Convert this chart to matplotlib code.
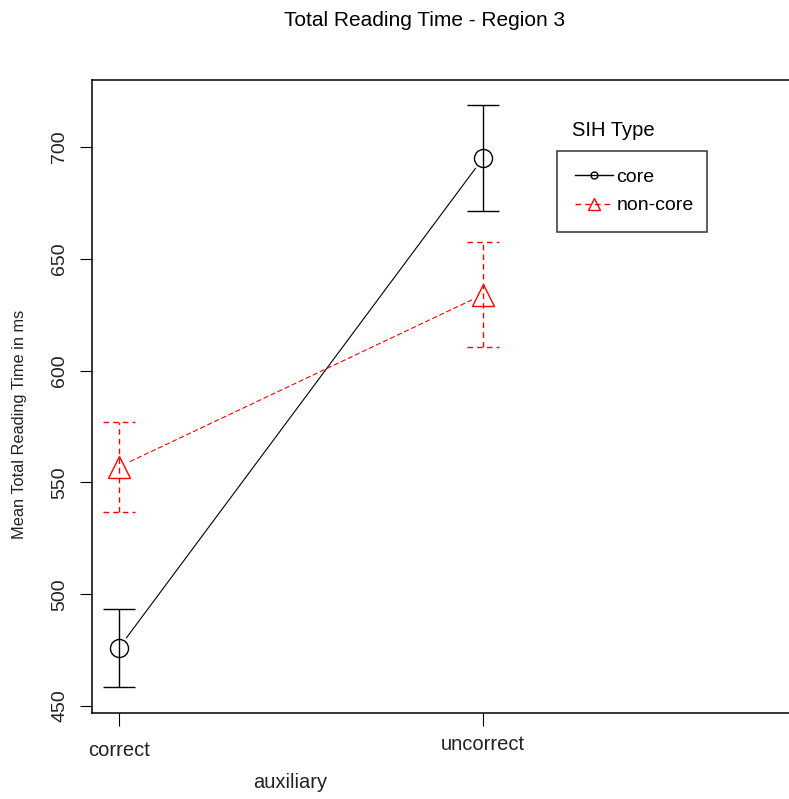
import matplotlib
matplotlib.use("Agg")
import matplotlib.pyplot as plt
from matplotlib.lines import Line2D

# values
levels = ["correct", "uncorrect"]
x_pos = [1, 2]
core_mean = [476, 695]
core_err = [17.5, 23.7]
noncore_mean = [557, 634]
noncore_err = [20, 23.5]
y_ticks = [450, 500, 550, 600, 650, 700]

plt.rcParams['font.family'] = ['Liberation Sans', 'DejaVu Sans']

W, H = 789, 799
fig = plt.figure(figsize=(W / 100, H / 100), dpi=100)
# plot box runs off the right edge like in the reference
ax = fig.add_axes([92 / W, 1 - 713 / H, (830 - 92) / W, (713 - 80) / H])

ax.set_xlim(0.926, 1 + (830 - 119) / 364)
ax.set_ylim(446.9, 730.0)

cap = 0.044


def draw_series(means, errs, color, ls, marker, ms):
    dash = (0, (4, 3)) if ls == '--' else '-'
    for x, m, e in zip(x_pos, means, errs):
        ax.vlines(x, m - e, m + e, color=color, linestyle=dash, lw=1.0)
        ax.hlines([m - e, m + e], x - cap, x + cap, color=color, linestyle=dash, lw=1.0)
    ax.plot(x_pos, means, linestyle='none', marker=marker, markersize=ms,
            markerfacecolor='none', markeredgecolor=color, markeredgewidth=1.0)
    for i in range(len(x_pos) - 1):
        ax.annotate('', xy=(x_pos[i + 1], means[i + 1]), xytext=(x_pos[i], means[i]),
                    arrowprops=dict(arrowstyle='-', color=color, lw=0.8,
                                    linestyle=dash, shrinkA=9, shrinkB=9))


draw_series(core_mean, core_err, 'black', '-', 'o', 13)
draw_series(noncore_mean, noncore_err, 'red', '--', '^', 16)

for sp in ax.spines.values():
    sp.set_linewidth(1.1)

ax.set_yticks(y_ticks)
ax.set_yticklabels([str(v) for v in y_ticks], rotation=90, va='center', fontsize=14,
                   color='#222222')
ax.tick_params(axis='y', length=9, width=0.8, pad=8)
ax.set_xticks(x_pos)
ax.set_xticklabels([])
ax.tick_params(axis='x', length=9, width=0.8)

xt = ax.get_xaxis_transform()
ax.text(x_pos[0], -(750 - 713) / (713 - 80), levels[0], transform=xt, ha='center',
        va='center', fontsize=14.5, color='#222222')
ax.text(x_pos[1], -(745 - 713) / (713 - 80), levels[1], transform=xt, ha='center',
        va='center', fontsize=14.5, color='#222222')

fig.text(425 / W, 1 - 20 / H, "Total Reading Time - Region 3", ha='center', va='center',
         fontsize=15)
fig.text(290 / W, 1 - 783 / H, "auxiliary", ha='center', va='center', fontsize=14.5,
         color='#222222')
fig.text(20 / W, 1 - 424 / H, "Mean Total Reading Time in ms", ha='center', va='center',
         rotation=90, fontsize=11.8, color='#222222')

handles = [
    Line2D([], [], color='black', lw=1.0, marker='o', markersize=5,
           markerfacecolor='none'),
    Line2D([], [], color='red', lw=1.0, linestyle=(0, (4, 3)), marker='^', markersize=9,
           markerfacecolor='none'),
]
leg = fig.legend(handles, ["core", "non-core"], loc='upper left',
                 bbox_to_anchor=(557 / W, 1 - 151 / H, 150 / W, 0.0),
                 mode='expand', fontsize=14, frameon=True, fancybox=False,
                 handlelength=2.0, handletextpad=0.15, borderpad=0.9,
                 labelspacing=0.55, borderaxespad=0)
leg.get_frame().set_edgecolor('black')
leg.get_frame().set_linewidth(1.1)
fig.text(572 / W, 1 - 130 / H, "SIH Type", ha='left', va='center', fontsize=14.5)

fig.savefig("out.png", dpi=100)
